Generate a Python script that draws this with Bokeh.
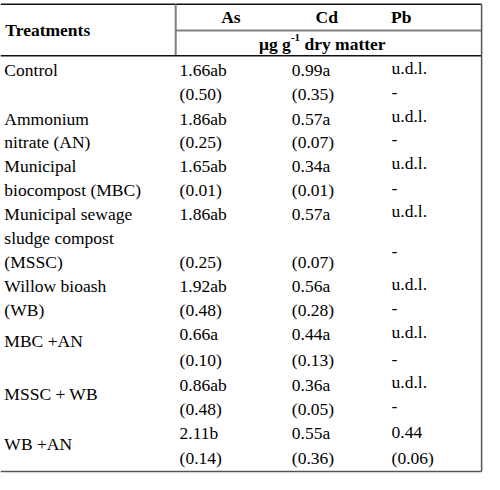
from bokeh.plotting import figure
from bokeh.models import Range1d
from bokeh.embed import file_html
from bokeh.resources import INLINE
from bokeh.core.properties import value

# ---- data ----
treatment_lines = [
    ["Control"],
    ["Ammonium", "nitrate (AN)"],
    ["Municipal", "biocompost (MBC)"],
    ["Municipal sewage", "sludge compost", "(MSSC)"],
    ["Willow bioash", "(WB)"],
    ["MBC +AN"],
    ["MSSC + WB"],
    ["WB +AN"],
]
as_mean = [1.66, 1.86, 1.65, 1.86, 1.92, 0.66, 0.86, 2.11]
as_group = ["ab", "ab", "ab", "ab", "ab", "a", "ab", "b"]
as_sd = [0.50, 0.25, 0.01, 0.25, 0.48, 0.10, 0.48, 0.14]
cd_mean = [0.99, 0.57, 0.34, 0.57, 0.56, 0.44, 0.36, 0.55]
cd_group = ["a", "a", "a", "a", "a", "a", "a", "a"]
cd_sd = [0.35, 0.07, 0.01, 0.07, 0.28, 0.13, 0.05, 0.36]
pb_mean = [None, None, None, None, None, None, None, 0.44]
pb_sd = [None, None, None, None, None, None, None, 0.06]
elements = ["As", "Cd", "Pb"]
unit_parts = ["μg g", "-1", "dry matter"]

# ---- layout (reference pixel space) ----
W, H = 484, 474
REF_W, REF_H = 500, 490
mean_y = [72, 122, 171, 221, 295, 345, 397, 447]
sd_y = [97, 146, 196, 270, 320, 372, 422, 473]
label_y = [[72], [122, 146], [171, 196], [221, 246, 270], [295, 320], [352], [407], [458]]
pb_mean_y = [70, 119, 168, 218, 293, 343, 394, 447]
pb_sd_y = [95, 144, 194, 259, 318, 371, 420, 473]
col_x = {"label": 4, "As": 185, "Cd": 301, "Pb": 404}
head_x = {"As": 238, "Cd": 337, "Pb": 414}
FS = "17.5px"
FONT = value("Liberation Serif")

p = figure(width=W, height=H, output_backend="svg", toolbar_location=None,
           x_axis_type=None, y_axis_type=None, min_border=0,
           x_range=Range1d(0, REF_W), y_range=Range1d(REF_H, 0))
p.outline_line_color = None
p.grid.visible = False
p.background_fill_color = "white"

# lines
p.segment(x0=[0], y0=[4], x1=[497], y1=[4], line_color="#111111", line_width=1.5)
p.segment(x0=[181], y0=[4], x1=[181], y1=[57], line_color="#808080", line_width=2)
p.segment(x0=[181], y0=[31], x1=[497], y1=[31], line_color="#808080", line_width=2)
p.segment(x0=[0], y0=[57], x1=[497], y1=[57], line_color="#111111", line_width=1.5)
p.segment(x0=[497], y0=[4], x1=[497], y1=[487], line_color="#555555", line_width=1.5)
p.segment(x0=[0], y0=[487], x1=[497], y1=[487], line_color="#555555", line_width=1.5)

# header
p.text(x=[5], y=[31], text=["Treatments"], text_font=FONT, text_font_size=FS,
       text_font_style="bold", text_baseline="middle", text_align="left", text_color="black")
p.text(x=[head_x[e] for e in elements], y=[17] * 3, text=elements, text_font=FONT,
       text_font_size=FS, text_font_style="bold", text_baseline="middle",
       text_align="center", text_color="black")
p.text(x=[267], y=[45], text=[unit_parts[0]], text_font=FONT, text_font_size=FS,
       text_font_style="bold", text_baseline="middle", text_align="left", text_color="black")
p.text(x=[300], y=[38], text=[unit_parts[1]], text_font=FONT, text_font_size="11px",
       text_font_style="bold", text_baseline="middle", text_align="left", text_color="black")
p.text(x=[314], y=[45], text=[unit_parts[2]], text_font=FONT, text_font_size=FS,
       text_font_style="bold", text_baseline="middle", text_align="left", text_color="black")

# body texts
xs, ys, ts = [], [], []
for lines, yy in zip(treatment_lines, label_y):
    for t, y in zip(lines, yy):
        xs.append(col_x["label"]); ys.append(y); ts.append(t)
for i in range(len(as_mean)):
    xs += [col_x["As"], col_x["As"], col_x["Cd"], col_x["Cd"]]
    ys += [mean_y[i], sd_y[i], mean_y[i], sd_y[i]]
    ts += [f"{as_mean[i]:.2f}{as_group[i]}", f"({as_sd[i]:.2f})",
           f"{cd_mean[i]:.2f}{cd_group[i]}", f"({cd_sd[i]:.2f})"]
    xs += [col_x["Pb"], col_x["Pb"]]
    ys += [pb_mean_y[i], pb_sd_y[i]]
    ts += ["u.d.l." if pb_mean[i] is None else f"{pb_mean[i]:.2f}",
           "-" if pb_sd[i] is None else f"({pb_sd[i]:.2f})"]
p.text(x=xs, y=ys, text=ts, text_font=FONT, text_font_size=FS,
       text_baseline="middle", text_align="left", text_color="black")

open("out.html", "w").write(file_html(p, INLINE))
